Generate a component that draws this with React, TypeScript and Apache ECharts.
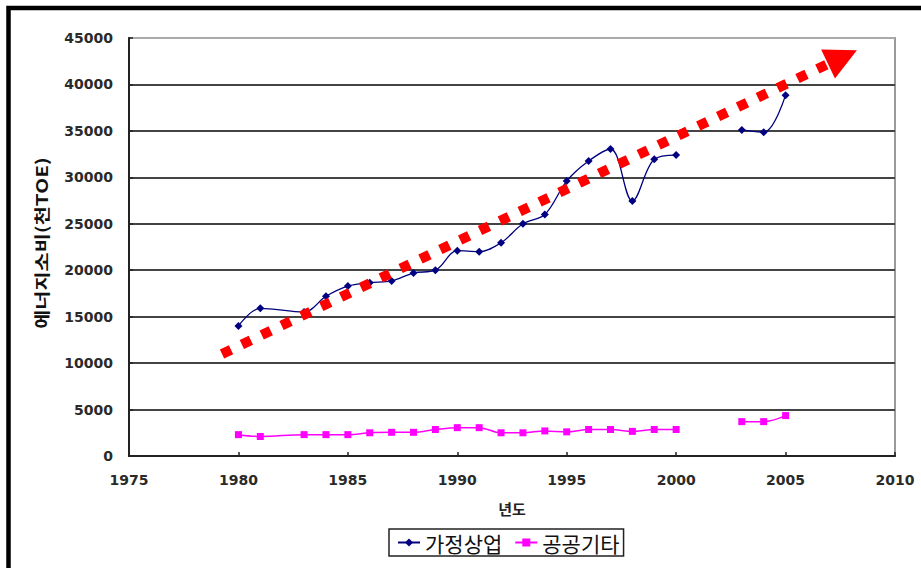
import React, { useEffect, useRef } from "react";
import * as echarts from "echarts";

// ---- data ----
const years = [1980, 1981, 1983, 1984, 1985, 1986, 1987, 1988, 1989, 1990, 1991, 1992, 1993, 1994, 1995, 1996, 1997, 1998, 1999, 2000, 2001, 2002, 2003, 2004, 2005];
const householdCommercial = [14000, 15900, 15500, 17200, 18300, 18650, 18850, 19700, 20000, 22100, 22000, 22950, 25000, 26000, 29600, 31750, 33050, 27450, 31950, 32400, null, null, 35100, 34850, 38850];
const publicOther = [2300, 2100, 2300, 2300, 2300, 2500, 2550, 2550, 2850, 3050, 3050, 2500, 2500, 2700, 2600, 2850, 2850, 2650, 2850, 2850, null, null, 3700, 3700, 4350];
const seriesNames = ["가정상업", "공공기타"];
const trendStart = [1979.25, 10980];
const trendEnd = [2007.6, 42950];
const yTitle = "에너지소비(천TOE)";
const xTitle = "년도";

export default function App() {
  const ref = useRef<HTMLDivElement>(null);
  useEffect(() => {
    if (!ref.current) return;
    const chart = echarts.init(ref.current, null, { renderer: "svg" });
    const pairs = (vals: (number | null)[]) => years.map((y, i) => [y, vals[i]]);
    const labelFont = "'DejaVu Sans', Arial, sans-serif";
    const splitColors = ["#444", "#444", "#444", "#444", "#444", "#444", "#444", "#444", "#444", "#aaa"];
    chart.setOption({
      animation: false,
      backgroundColor: "#ffffff",
      grid: { left: 129, right: 26, top: 38, bottom: 112, show: true, borderColor: "#9a9a9a", borderWidth: 2, backgroundColor: "#fff" },
      xAxis: {
        type: "value",
        min: 1975,
        max: 2010,
        interval: 5,
        name: xTitle,
        nameLocation: "middle",
        nameGap: 45,
        nameTextStyle: { fontFamily: "'Noto Sans CJK KR'", fontWeight: "bold", fontSize: 15, color: "#222" },
        axisLine: { show: true, lineStyle: { color: "#222", width: 2 } },
        axisTick: { show: true, inside: true, length: 4, lineStyle: { color: "#222", width: 1.5 } },
        axisLabel: { margin: 17, fontFamily: labelFont, fontWeight: "bold", fontSize: 14, color: "#2a2a2a", formatter: (v: number) => String(v) },
        splitLine: { show: false },
      },
      yAxis: {
        type: "value",
        min: 0,
        max: 45000,
        interval: 5000,
        axisLine: { show: true, lineStyle: { color: "#222", width: 2 } },
        axisTick: { show: true, inside: true, length: 4, lineStyle: { color: "#222", width: 1.5 } },
        axisLabel: { margin: 16, fontFamily: labelFont, fontWeight: "bold", fontSize: 14, color: "#2a2a2a", formatter: (v: number) => String(v) },
        splitLine: { show: true, lineStyle: { color: splitColors, width: 2 } },
      },
      legend: {
        data: seriesNames,
        left: 389,
        top: 529,
        orient: "horizontal",
        itemWidth: 22,
        itemHeight: 10,
        itemGap: 12,
        borderColor: "#222",
        borderWidth: 1.5,
        borderRadius: 0,
        padding: [3, 4, 3, 8],
        textStyle: { fontFamily: "'Noto Sans CJK KR'", fontSize: 21, color: "#111", lineHeight: 20 },
      },
      graphic: [
        {
          type: "text",
          x: 41,
          y: 243,
          rotation: Math.PI / 2,
          scaleX: 1.3,
          style: {
            text: yTitle,
            font: "bold 16px 'Noto Sans CJK KR'",
            fill: "#111",
            textAlign: "center",
            textVerticalAlign: "middle",
          },
        },
        {
          type: "rect",
          shape: { x: 8.5, y: 8, width: 1000, height: 1000 },
          style: { fill: "none", stroke: "#000", lineWidth: 4.5 },
          z: 100,
          silent: true,
        },
      ],
      series: [
        {
          name: seriesNames[0],
          type: "line",
          data: pairs(householdCommercial),
          smooth: 0.35,
          connectNulls: false,
          symbol: "diamond",
          symbolSize: 8,
          itemStyle: { color: "#000080" },
          lineStyle: { color: "#000080", width: 1.3 },
          markLine: {
            silent: true,
            symbol: ["none", "triangle"],
            symbolSize: 32,
            label: { show: false },
            lineStyle: { color: "#ff0000", width: 10, type: [10, 12], cap: "butt" },
            data: [[{ coord: trendStart }, { coord: trendEnd }]],
          },
        },
        {
          name: seriesNames[1],
          type: "line",
          data: pairs(publicOther),
          smooth: 0.35,
          connectNulls: false,
          symbol: "rect",
          symbolSize: 7,
          itemStyle: { color: "#ff00ff" },
          lineStyle: { color: "#ff00ff", width: 1.5 },
        },
      ],
    });
    return () => chart.dispose();
  }, []);
  return <div ref={ref} style={{ position: "fixed", left: 0, top: 0, width: 921, height: 568 }} />;
}
